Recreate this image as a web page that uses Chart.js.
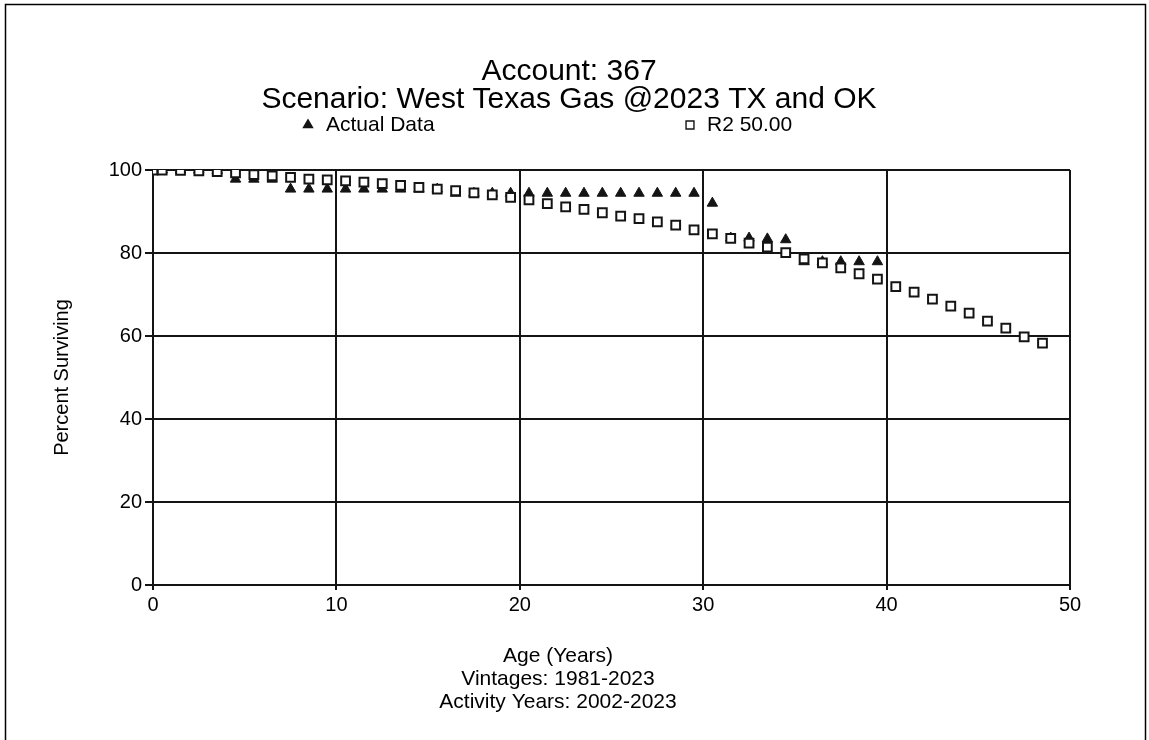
<!DOCTYPE html>
<html>
<head>
<meta charset="utf-8">
<script src="https://cdn.jsdelivr.net/npm/chart.js@4"></script>
<style>
  html, body { margin: 0; padding: 0; background: #fff; }
  #wrap { width: 1149px; height: 740px; }
</style>
</head>
<body>
<div id="wrap"><canvas id="survivalChart" width="1149" height="740"></canvas></div>
<script>
const titleLines = ["Account: 367", "Scenario: West Texas Gas @2023 TX and OK"];
const xTitleLines = ["Age (Years)", "Vintages: 1981-2023", "Activity Years: 2002-2023"];
const yTitle = "Percent Surviving";

const xTicks = [0, 10, 20, 30, 40, 50];
const yTicks = [0, 20, 40, 60, 80, 100];

// R2 50.00 curve
const r2Ages = [0, 0.5, 1.5, 2.5, 3.5, 4.5, 5.5, 6.5, 7.5, 8.5, 9.5, 10.5, 11.5, 12.5, 13.5, 14.5, 15.5,
  16.5, 17.5, 18.5, 19.5, 20.5, 21.5, 22.5, 23.5, 24.5, 25.5, 26.5, 27.5, 28.5, 29.5, 30.5, 31.5, 32.5,
  33.5, 34.5, 35.5, 36.5, 37.5, 38.5, 39.5, 40.5, 41.5, 42.5, 43.5, 44.5, 45.5, 46.5, 47.5, 48.5];
const r2Values = [100, 100, 99.9, 99.8, 99.6, 99.3, 98.9, 98.6, 98.2, 97.8, 97.6, 97.4, 97.1, 96.7, 96.3, 95.8, 95.4,
  95.0, 94.5, 94.0, 93.4, 92.8, 91.9, 91.1, 90.5, 89.7, 88.9, 88.3, 87.5, 86.7, 85.6, 84.6, 83.5, 82.4,
  81.4, 80.1, 78.6, 77.6, 76.4, 75.0, 73.7, 71.9, 70.6, 68.9, 67.2, 65.5, 63.6, 61.9, 59.8, 58.3];

// Actual data
const actualAges = [0, 0.5, 1.5, 2.5, 3.5, 4.5, 5.5, 6.5, 7.5, 8.5, 9.5, 10.5, 11.5, 12.5, 13.5, 14.5, 15.5,
  16.5, 17.5, 18.5, 19.5, 20.5, 21.5, 22.5, 23.5, 24.5, 25.5, 26.5, 27.5, 28.5, 29.5, 30.5, 31.5, 32.5,
  33.5, 34.5, 35.5, 36.5, 37.5, 38.5, 39.5];
const actualValues = [100, 100, 100, 100, 99.9, 97.8, 97.8, 97.8, 95.4, 95.4, 95.4, 95.4, 95.4, 95.4, 95.4, 95.4, 95.4,
  94.4, 94.4, 94.4, 94.4, 94.4, 94.4, 94.4, 94.4, 94.4, 94.4, 94.4, 94.4, 94.4, 94.4, 92.0, 83.6, 83.6,
  83.4, 83.2, 77.9, 77.9, 77.9, 77.9, 77.9];

const FONT = "'Liberation Sans', Arial, sans-serif";
const INK = "#141414";

const toPoints = (xs, ys) => xs.map((x, i) => ({ x: x, y: ys[i] }));

// outer frame, titles, legend and the x axis caption
const decorPlugin = {
  id: "decor",
  beforeDraw(chart) {
    const ctx = chart.ctx;
    ctx.save();
    ctx.strokeStyle = "#000";
    ctx.lineWidth = 1.5;
    ctx.beginPath();
    ctx.moveTo(5.5, 745);
    ctx.lineTo(5.5, 4.5);
    ctx.lineTo(1145.5, 4.5);
    ctx.lineTo(1145.5, 745);
    ctx.stroke();
    ctx.restore();
  },
  afterDraw(chart) {
    const ctx = chart.ctx;
    ctx.save();
    ctx.fillStyle = "#000";
    ctx.textBaseline = "middle";
    ctx.textAlign = "center";

    ctx.font = "30px " + FONT;
    titleLines.forEach((t, i) => ctx.fillText(t, 569, 72 + i * 28));

    ctx.font = "21px " + FONT;
    xTitleLines.forEach((t, i) => ctx.fillText(t, 558, 656 + i * 23));

    const items = [
      { ds: chart.data.datasets[1], px: 308, tx: 326, r: 5.2 },
      { ds: chart.data.datasets[0], px: 690, tx: 707, r: 5.6 },
    ];
    ctx.textAlign = "left";
    items.forEach((it) => {
      ctx.fillStyle = it.ds.pointBackgroundColor;
      ctx.strokeStyle = it.ds.pointBorderColor;
      ctx.lineWidth = 1.4;
      Chart.helpers.drawPoint(ctx, { pointStyle: it.ds.pointStyle, radius: it.r, borderWidth: 1.4 }, it.px, 125);
      ctx.fillStyle = "#000";
      ctx.fillText(it.ds.label, it.tx, 125);
    });
    ctx.restore();
  },
};

const chart = new Chart(document.getElementById("survivalChart").getContext("2d"), {
  type: "scatter",
  data: {
    datasets: [
      {
        label: "R2 50.00",
        data: toPoints(r2Ages, r2Values),
        pointStyle: "rect",
        pointRadius: 6.2,
        pointBorderWidth: 2,
        pointBackgroundColor: "#fff",
        pointBorderColor: INK,
        showLine: false,
      },
      {
        label: "Actual Data",
        data: toPoints(actualAges, actualValues),
        pointStyle: "triangle",
        pointRadius: 6,
        pointBorderWidth: 1,
        pointBackgroundColor: INK,
        pointBorderColor: INK,
        showLine: false,
      },
    ],
  },
  options: {
    responsive: false,
    animation: false,
    layout: { padding: { left: 0, right: 79, top: 170, bottom: 0 } },
    plugins: {
      legend: { display: false },
      tooltip: { enabled: false },
      title: { display: false },
    },
    scales: {
      x: {
        type: "linear",
        min: 0,
        max: 50,
        afterBuildTicks: (scale) => { scale.ticks = xTicks.map((v) => ({ value: v })); },
        afterFit: (scale) => { scale.height = 155; },
        grid: { color: INK, lineWidth: 2, tickLength: 5 },
        border: { color: INK, width: 2 },
        ticks: { color: "#000", padding: 3, maxRotation: 0, font: { family: FONT, size: 20 } },
      },
      y: {
        type: "linear",
        min: 0,
        max: 100,
        afterBuildTicks: (scale) => { scale.ticks = yTicks.map((v) => ({ value: v })); },
        afterFit: (scale) => { scale.width = 153; },
        grid: { color: INK, lineWidth: 2, tickLength: 8 },
        border: { color: INK, width: 2 },
        ticks: { color: "#000", padding: 3, font: { family: FONT, size: 20 } },
        title: {
          display: true,
          text: yTitle,
          color: "#000",
          font: { family: FONT, size: 20, lineHeight: "24px" },
          padding: { top: 50, bottom: 0 },
        },
      },
    },
  },
  plugins: [decorPlugin],
});
</script>
</body>
</html>
